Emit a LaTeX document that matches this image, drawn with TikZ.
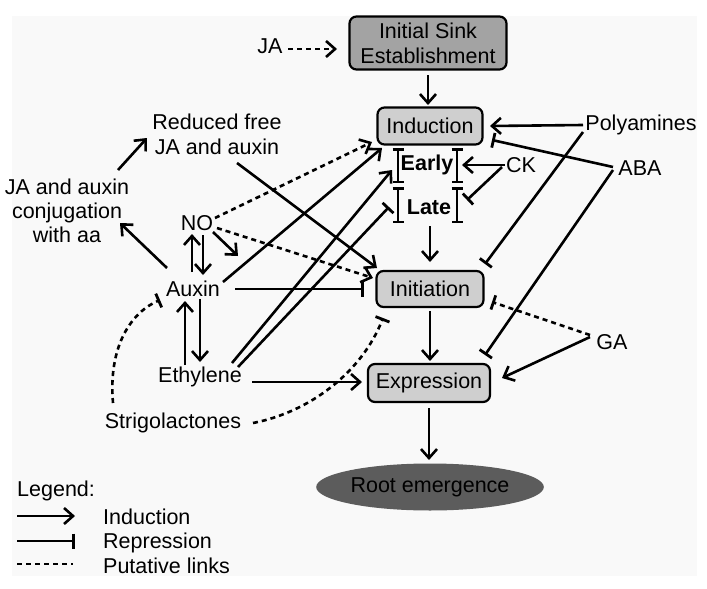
\documentclass[tikz,border=0pt]{standalone}
\usepackage{fontspec}
\setmainfont{Liberation Sans}
\usetikzlibrary{arrows.meta,shapes.geometric}
\definecolor{bgc}{HTML}{F9F9F9}
\definecolor{darkbox}{HTML}{A3A3A3}
\definecolor{lightbox}{HTML}{CFCFCF}
\definecolor{rootc}{HTML}{5C5C5C}
\tikzset{
  txt/.style={font=\fontsize{21.5}{25}\selectfont, inner sep=1pt, align=center, text=black},
  stage/.style={txt, draw, line width=2.2pt, rounded corners=7pt, fill=lightbox},
  ind/.style={line width=2.6pt, -{Straight Barb[length=9pt,width=16pt,line width=2.6pt]}},
  rep/.style={line width=2.6pt, -{Bar[width=15pt,line width=2.8pt]}},
  put/.style={dash pattern=on 5pt off 4pt},
  brk/.style={line width=2.5pt, {Bar[width=11pt,line width=2.5pt]}-{Bar[width=11pt,line width=2.5pt]}}
}
\begin{document}
\begin{tikzpicture}[x=1pt,y=-1pt]
\useasboundingbox (0,0) rectangle (707,589);
\fill[bgc] (12,16) rectangle (697,576);

% stage boxes
\node[stage, fill=darkbox, minimum width=157pt, minimum height=53pt] (initial) at (428,43) {Initial Sink\\Establishment};
\node[stage, minimum width=105pt, minimum height=37pt] (induction) at (430,126) {Induction};
\node[stage, minimum width=107pt, minimum height=36pt] (initiation) at (430,289) {Initiation};
\node[stage, minimum width=122pt, minimum height=38pt] (expression) at (429,383) {Expression};
\node[txt, ellipse, fill=rootc, minimum width=223pt, minimum height=47pt] (root) at (430,487) {Root emergence};

% labels
\node[txt] (ja) at (270,46) {JA};
\node[txt] (reduced) at (217,134) {Reduced free\\JA and auxin};
\node[txt, font=\fontsize{21.5}{24}\selectfont] (conj) at (67,211) {JA and auxin\\conjugation\\with aa};
\node[txt] (no) at (197,223) {NO};
\node[txt] (auxin) at (193,289) {Auxin};
\node[txt] (ethylene) at (200,377) {Ethylene};
\node[txt] (strigo) at (173,423) {Strigolactones};
\node[txt, font=\fontsize{21.5}{25}\selectfont\bfseries] (early) at (427,165) {Early};
\node[txt, font=\fontsize{21.5}{25}\selectfont\bfseries] (late) at (429,207) {Late};
\node[txt] (ck) at (521,165) {CK};
\node[txt] (poly) at (641,125) {Polyamines};
\node[txt] (aba) at (640,168) {ABA};
\node[txt] (ga) at (612,342) {GA};

% Early / Late brackets
\draw[brk] ([shift={(-29,-17)}]early.center) -- ([shift={(-29,18)}]early.center);
\draw[brk] ([shift={(30,-17)}]early.center) -- ([shift={(30,18)}]early.center);
\draw[brk] ([shift={(-31,-20)}]late.center) -- ([shift={(-31,16)}]late.center);
\draw[brk] ([shift={(28,-20)}]late.center) -- ([shift={(28,16)}]late.center);

% main chain
\draw[ind] ([shift={(0,32)}]initial.center) -- ([shift={(-2,-21)}]induction.center);
\draw[ind] ([shift={(1,19)}]late.center) -- ([shift={(0,-27)}]initiation.center);
\draw[ind] ([shift={(0,22)}]initiation.center) -- ([shift={(1,-22)}]expression.center);
\draw[ind] ([shift={(0,25)}]expression.center) -- ([shift={(-1,-27)}]root.center);

% JA
\draw[ind, put] ([shift={(18,3)}]ja.center) -- ([shift={(-91,6)}]initial.center);

% left side
\draw[ind] ([shift={(-26,-21)}]auxin.center) -- ([shift={(53,12)}]conj.center);
\draw[ind] ([shift={(51,-41)}]conj.center) -- ([shift={(-70,4)}]reduced.center);
\draw[ind] ([shift={(20,29)}]reduced.center) -- ([shift={(-53,-21)}]initiation.center);
\draw[ind] ([shift={(-1,-17)}]auxin.center) -- ([shift={(-5,11)}]no.center);
\draw[ind] ([shift={(6,12)}]no.center) -- ([shift={(10,-14)}]auxin.center);
\coordinate (nofree) at (238,256);
\draw[ind] ([shift={(16,9)}]no.center) -- (nofree);
\draw[ind, put] ([shift={(18,-5)}]no.center) -- ([shift={(-58,16)}]induction.center);
\draw[ind, put] ([shift={(20,5)}]no.center) -- ([shift={(-57,-11)}]initiation.center);
\draw[ind] ([shift={(30,-7)}]auxin.center) -- ([shift={(-48,22)}]induction.center);
\draw[rep] ([shift={(42,0)}]auxin.center) -- ([shift={(-66,0)}]initiation.center);
\draw[ind] ([shift={(7,10)}]auxin.center) -- ([shift={(0,-15)}]ethylene.center);
\draw[ind] ([shift={(-15,-12)}]ethylene.center) -- ([shift={(-8,12)}]auxin.center);
\draw[ind] ([shift={(32,-14)}]ethylene.center) -- ([shift={(-35,5)}]early.center);
\draw[rep] ([shift={(38,-10)}]ethylene.center) -- ([shift={(-40,0)}]late.center);
\draw[ind] ([shift={(52,5)}]ethylene.center) -- ([shift={(-67,-1)}]expression.center);
\draw[rep, put] ([shift={(-60,-20)}]strigo.center) .. controls (108,345) and (132,312) .. ([shift={(-33,11)}]auxin.center);
\draw[rep, put] ([shift={(80,0)}]strigo.center) .. controls (310,412) and (362,372) .. ([shift={(-47,29)}]initiation.center);

% right side
\draw[ind] ([shift={(-16,0)}]ck.center) -- ([shift={(35,0)}]early.center);
\draw[rep] ([shift={(-19,2)}]ck.center) -- ([shift={(38,-7)}]late.center);
\draw[ind] ([shift={(-58,0)}]poly.center) -- ([shift={(60,0)}]induction.center);
\draw[rep] ([shift={(-58,7)}]poly.center) -- ([shift={(55,-25)}]initiation.center);
\draw[rep] ([shift={(-27,-1)}]aba.center) -- ([shift={(62,14)}]induction.center);
\draw[rep] ([shift={(-27,2)}]aba.center) -- ([shift={(56,-28)}]expression.center);
\draw[ind] ([shift={(-22,-5)}]ga.center) -- ([shift={(73,-5)}]expression.center);
\draw[rep, put] ([shift={(-22,-7)}]ga.center) -- ([shift={(62,13)}]initiation.center);

% legend
\node[txt, anchor=west] (legend) at (16,491) {Legend:};
\node[txt, anchor=west] (lind) at (102,517) {Induction};
\node[txt, anchor=west] (lrep) at (102,543) {Repression};
\node[txt, anchor=west] (lput) at (102,566) {Putative links};
\coordinate (li1) at (17,516); \coordinate (li2) at (75,516);
\coordinate (lr1) at (17,541); \coordinate (lr2) at (75,541);
\coordinate (lp1) at (17,564); \coordinate (lp2) at (73,564);
\draw[ind] (li1) -- (li2);
\draw[rep] (lr1) -- (lr2);
\draw[put, line width=2.3pt] (lp1) -- (lp2);
\end{tikzpicture}
\end{document}
